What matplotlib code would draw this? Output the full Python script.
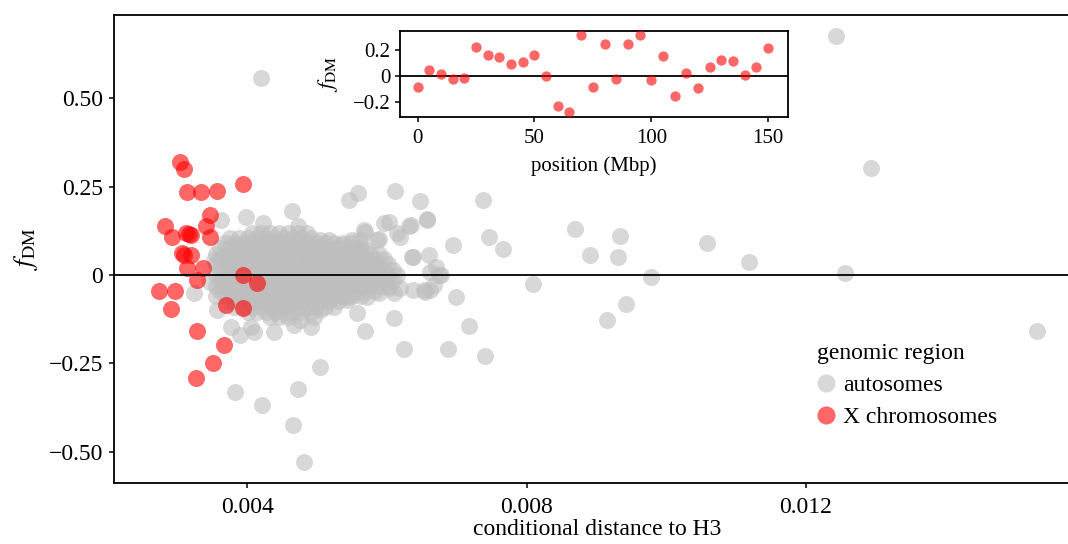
import matplotlib
matplotlib.use("Agg")
import matplotlib.pyplot as plt
from matplotlib.lines import Line2D

plt.rcParams['font.family'] = ['Liberation Serif', 'DejaVu Serif']
plt.rcParams['mathtext.fontset'] = 'stix'

# ---------------- data ----------------
# X chromosome windows: conditional distance to H3 and f_DM
x_chrom_dist = [0.00303, 0.00309, 0.00314, 0.00333, 0.00356, 0.00394, 0.00347, 0.00282,
                0.00341, 0.00292, 0.00312, 0.00319, 0.00347, 0.00306, 0.00319, 0.00314,
                0.00336, 0.00328, 0.00394, 0.00414, 0.00273, 0.00296, 0.00291, 0.00370,
                0.00394, 0.00328, 0.00367, 0.00351, 0.00326, 0.00316, 0.00309]
x_chrom_fdm = [0.319, 0.299, 0.234, 0.234, 0.239, 0.258, 0.169, 0.139,
               0.139, 0.107, 0.120, 0.113, 0.107, 0.061, 0.057, 0.019,
               0.021, -0.014, 0.000, -0.024, -0.044, -0.044, -0.097, -0.085,
               -0.094, -0.159, -0.198, -0.248, -0.293, 0.115, 0.058]

# autosome windows outside the dense core
auto_dist = [0.00419, 0.01243, 0.01294, 0.01256, 0.01531, 0.01119, 0.01059, 0.00978,
             0.00942, 0.00915, 0.00934, 0.00931, 0.00891, 0.00869, 0.00810, 0.00766,
             0.00746, 0.00737, 0.00740, 0.00718, 0.00687, 0.00699, 0.00694, 0.00625,
             0.00610, 0.00568, 0.00504, 0.00472, 0.00466, 0.00481, 0.00421, 0.00383,
             0.00464, 0.00545, 0.00558, 0.00612, 0.00648, 0.00657, 0.00671, 0.00674,
             0.00662,
             0.00398, 0.00362, 0.00423, 0.00472, 0.00567, 0.00596, 0.00615, 0.00634,
             0.00586, 0.00550, 0.00660, 0.00638, 0.00662, 0.00677, 0.00653, 0.00638,
             0.00610, 0.00588, 0.00572, 0.00543, 0.00529, 0.00495, 0.00491, 0.00467,
             0.00438, 0.00405, 0.00390, 0.00376, 0.00357, 0.00324, 0.00347, 0.00352,
             0.00557, 0.00476, 0.00603, 0.00619, 0.00667, 0.00655, 0.00603, 0.00631,
             0.00657, 0.00569, 0.00562, 0.00588, 0.00619, 0.00536, 0.00636, 0.00409]
auto_fdm = [0.558, 0.677, 0.303, 0.006, -0.159, 0.037, 0.091, -0.006,
            -0.082, -0.127, 0.110, 0.051, 0.057, 0.130, -0.025, 0.074,
            0.108, 0.212, -0.229, -0.144, -0.210, -0.062, 0.085, -0.210,
            -0.122, -0.159, -0.261, -0.323, -0.425, -0.530, -0.368, -0.331,
            0.181, 0.212, 0.232, 0.238, 0.210, 0.159, 0.023, 0.000,
            -0.042,
            0.165, 0.156, 0.147, 0.140, 0.127, 0.146, 0.118, 0.142,
            0.099, 0.099, 0.057, 0.050, 0.009, 0.000, -0.042, -0.042,
            -0.052, -0.052, -0.061, -0.061, -0.057, -0.118, -0.146, -0.142,
            -0.161, -0.146, -0.170, -0.146, -0.099, -0.052, -0.019, 0.042,
            -0.107, -0.127, -0.038, -0.038, -0.028, -0.047, 0.151, 0.139,
            0.156, 0.123, 0.099, 0.101, 0.108, 0.085, 0.052, -0.161]

# dense core of autosome windows (estimated, column by column)
core_dist = [0.003550, 0.003615, 0.003680, 0.003745, 0.003810, 0.003875, 0.003940,
             0.004005, 0.004070, 0.004135, 0.004200, 0.004265, 0.004330, 0.004395,
             0.004460, 0.004525, 0.004590, 0.004655, 0.004720, 0.004785, 0.004850,
             0.004915, 0.004980, 0.005045, 0.005110, 0.005175, 0.005240, 0.005305,
             0.005370, 0.005435, 0.005500, 0.005565, 0.005630, 0.005695, 0.005760,
             0.005825, 0.005890, 0.005955, 0.006020, 0.006085, 0.006150]
core_fdm = [
    [-0.06, -0.03, 0.00, 0.03, 0.06],
    [-0.045, -0.015, 0.015, 0.045, 0.075],
    [-0.06, -0.03, 0.00, 0.03, 0.06, 0.09],
    [-0.075, -0.045, -0.015, 0.015, 0.045, 0.075, 0.105],
    [-0.09, -0.06, -0.03, 0.00, 0.03, 0.06, 0.09],
    [-0.075, -0.045, -0.015, 0.015, 0.045, 0.075, 0.105],
    [-0.09, -0.06, -0.03, 0.00, 0.03, 0.06, 0.09],
    [-0.105, -0.075, -0.045, -0.015, 0.015, 0.045, 0.075, 0.105],
    [-0.09, -0.06, -0.03, 0.00, 0.03, 0.06, 0.09, 0.12],
    [-0.105, -0.075, -0.045, -0.015, 0.015, 0.045, 0.075, 0.105],
    [-0.09, -0.06, -0.03, 0.00, 0.03, 0.06, 0.09, 0.12],
    [-0.105, -0.075, -0.045, -0.015, 0.015, 0.045, 0.075, 0.105],
    [-0.12, -0.09, -0.06, -0.03, 0.00, 0.03, 0.06, 0.09, 0.12],
    [-0.105, -0.075, -0.045, -0.015, 0.015, 0.045, 0.075, 0.105],
    [-0.12, -0.09, -0.06, -0.03, 0.00, 0.03, 0.06, 0.09, 0.12],
    [-0.105, -0.075, -0.045, -0.015, 0.015, 0.045, 0.075, 0.105],
    [-0.12, -0.09, -0.06, -0.03, 0.00, 0.03, 0.06, 0.09, 0.12],
    [-0.105, -0.075, -0.045, -0.015, 0.015, 0.045, 0.075, 0.105],
    [-0.09, -0.06, -0.03, 0.00, 0.03, 0.06, 0.09, 0.12],
    [-0.105, -0.075, -0.045, -0.015, 0.015, 0.045, 0.075, 0.105],
    [-0.09, -0.06, -0.03, 0.00, 0.03, 0.06, 0.09, 0.12],
    [-0.105, -0.075, -0.045, -0.015, 0.015, 0.045, 0.075, 0.105],
    [-0.09, -0.06, -0.03, 0.00, 0.03, 0.06, 0.09],
    [-0.10, -0.075, -0.045, -0.015, 0.015, 0.045, 0.075, 0.10],
    [-0.09, -0.06, -0.03, 0.00, 0.03, 0.06, 0.09],
    [-0.075, -0.045, -0.015, 0.015, 0.045, 0.075, 0.10],
    [-0.09, -0.06, -0.03, 0.00, 0.03, 0.06, 0.09],
    [-0.075, -0.045, -0.015, 0.015, 0.045, 0.075],
    [-0.06, -0.03, 0.00, 0.03, 0.06, 0.09],
    [-0.07, -0.045, -0.015, 0.015, 0.045, 0.075],
    [-0.06, -0.03, 0.00, 0.03, 0.06, 0.09],
    [-0.045, -0.015, 0.015, 0.045, 0.075],
    [-0.06, -0.03, 0.00, 0.03, 0.06, 0.08],
    [-0.045, -0.015, 0.015, 0.045, 0.07],
    [-0.03, 0.00, 0.03, 0.06],
    [-0.045, -0.015, 0.015, 0.045],
    [-0.03, 0.00, 0.03, 0.06],
    [-0.015, 0.015, 0.045],
    [-0.03, 0.00, 0.03],
    [-0.015, 0.015],
    [0.00],
]

# inset: X chromosome f_DM along position
inset_pos = [0, 5, 10, 15, 20, 25, 30, 35, 40, 45, 50, 55, 60, 65, 70, 75, 80, 85, 90,
             95, 100, 105, 110, 115, 120, 125, 130, 135, 140, 145, 150]
inset_fdm = [-0.083, 0.046, 0.013, -0.026, -0.013, 0.227, 0.163, 0.150, 0.093, 0.106,
             0.163, 0.000, -0.232, -0.281, 0.317, -0.088, 0.248, -0.021, 0.248, 0.317,
             -0.031, 0.157, -0.155, 0.021, -0.095, 0.072, 0.124, 0.114, 0.008, 0.072,
             0.217]

main_xticks = [0.004, 0.008, 0.012]
main_xticklabels = ['0.004', '0.008', '0.012']
main_yticks = [-0.5, -0.25, 0, 0.25, 0.5]
main_yticklabels = ['\u22120.50', '\u22120.25', '0', '0.25', '0.50']
inset_xticks = [0, 50, 100, 150]
inset_xticklabels = ['0', '50', '100', '150']
inset_yticks = [-0.2, 0, 0.2]
inset_yticklabels = ['\u22120.2', '0', '0.2']

legend_title = 'genomic region'
legend_labels = ['autosomes', 'X chromosomes']

# ---------------- styling ----------------
GREY = '#bebebe'
RED = '#ff0000'
ALPHA = 0.6
W, H = 1068, 544

fig = plt.figure(figsize=(W / 100, H / 100), dpi=100)

# main axes (the right border falls just outside the picture)
ml, mr, mt, mb = 114, 1080, 14.7, 483
ax = fig.add_axes([ml / W, 1 - mb / H, (mr - ml) / W, (mb - mt) / H])

cx, cy = [], []
for xv, ys in zip(core_dist, core_fdm):
    for yv in ys:
        cx.append(xv)
        cy.append(yv)

ax.scatter(cx, cy, s=150, color=GREY, alpha=ALPHA, linewidths=0, zorder=2)
ax.scatter(auto_dist, auto_fdm, s=150, color=GREY, alpha=ALPHA, linewidths=0, zorder=2)
ax.scatter(x_chrom_dist, x_chrom_fdm, s=150, color=RED, alpha=ALPHA, linewidths=0, zorder=3)
ax.axhline(0, color='black', lw=1.3, zorder=4)

ax.set_xlim(0.00209, 0.01593)
ax.set_ylim(-0.589, 0.737)
ax.set_xticks(main_xticks)
ax.set_xticklabels(main_xticklabels)
ax.set_yticks(main_yticks)
ax.set_yticklabels(main_yticklabels)
ax.tick_params(direction='out', length=3.8, width=1.1, labelsize=17, color='black', pad=4)
ax.tick_params(axis='x', pad=6)
for sp in ax.spines.values():
    sp.set_linewidth(1.3)
ax.set_xlabel('conditional distance to H3', fontsize=17, labelpad=1)
ax.set_ylabel(r'$f_{\mathrm{DM}}$', fontsize=19, labelpad=6)

handles = [Line2D([0], [0], marker='o', linestyle='none', markersize=13,
                  markerfacecolor=GREY, markeredgewidth=0, alpha=ALPHA),
           Line2D([0], [0], marker='o', linestyle='none', markersize=13,
                  markerfacecolor=RED, markeredgewidth=0, alpha=ALPHA)]
leg = ax.legend(handles, legend_labels, title=legend_title, loc='upper left',
                bbox_to_anchor=(817 / W, 1 - 343 / H), bbox_transform=fig.transFigure,
                frameon=False, fontsize=17, title_fontsize=17, borderpad=0,
                handlelength=0.8, handletextpad=0.3, labelspacing=0.45,
                alignment='left', borderaxespad=0)

# inset axes
il, ir, it, ib = 400, 788, 31, 116.7
ax2 = fig.add_axes([il / W, 1 - ib / H, (ir - il) / W, (ib - it) / H])
ax2.scatter(inset_pos, inset_fdm, s=55, color=RED, alpha=ALPHA, linewidths=0, zorder=3)
ax2.axhline(0, color='black', lw=1.3, zorder=2)
ax2.set_xlim(-7.5, 158.5)
ax2.set_ylim(-0.315, 0.349)
ax2.set_xticks(inset_xticks)
ax2.set_xticklabels(inset_xticklabels)
ax2.set_yticks(inset_yticks)
ax2.set_yticklabels(inset_yticklabels)
ax2.tick_params(direction='out', length=3.8, width=1.1, labelsize=15, color='black', pad=3)
ax2.tick_params(axis='x', pad=5)
for sp in ax2.spines.values():
    sp.set_linewidth(1.3)
ax2.set_xlabel('position (Mbp)', fontsize=15, labelpad=6)
ax2.set_ylabel(r'$f_{\mathrm{DM}}$', fontsize=16, labelpad=9)

fig.savefig('out.png', dpi=100)
